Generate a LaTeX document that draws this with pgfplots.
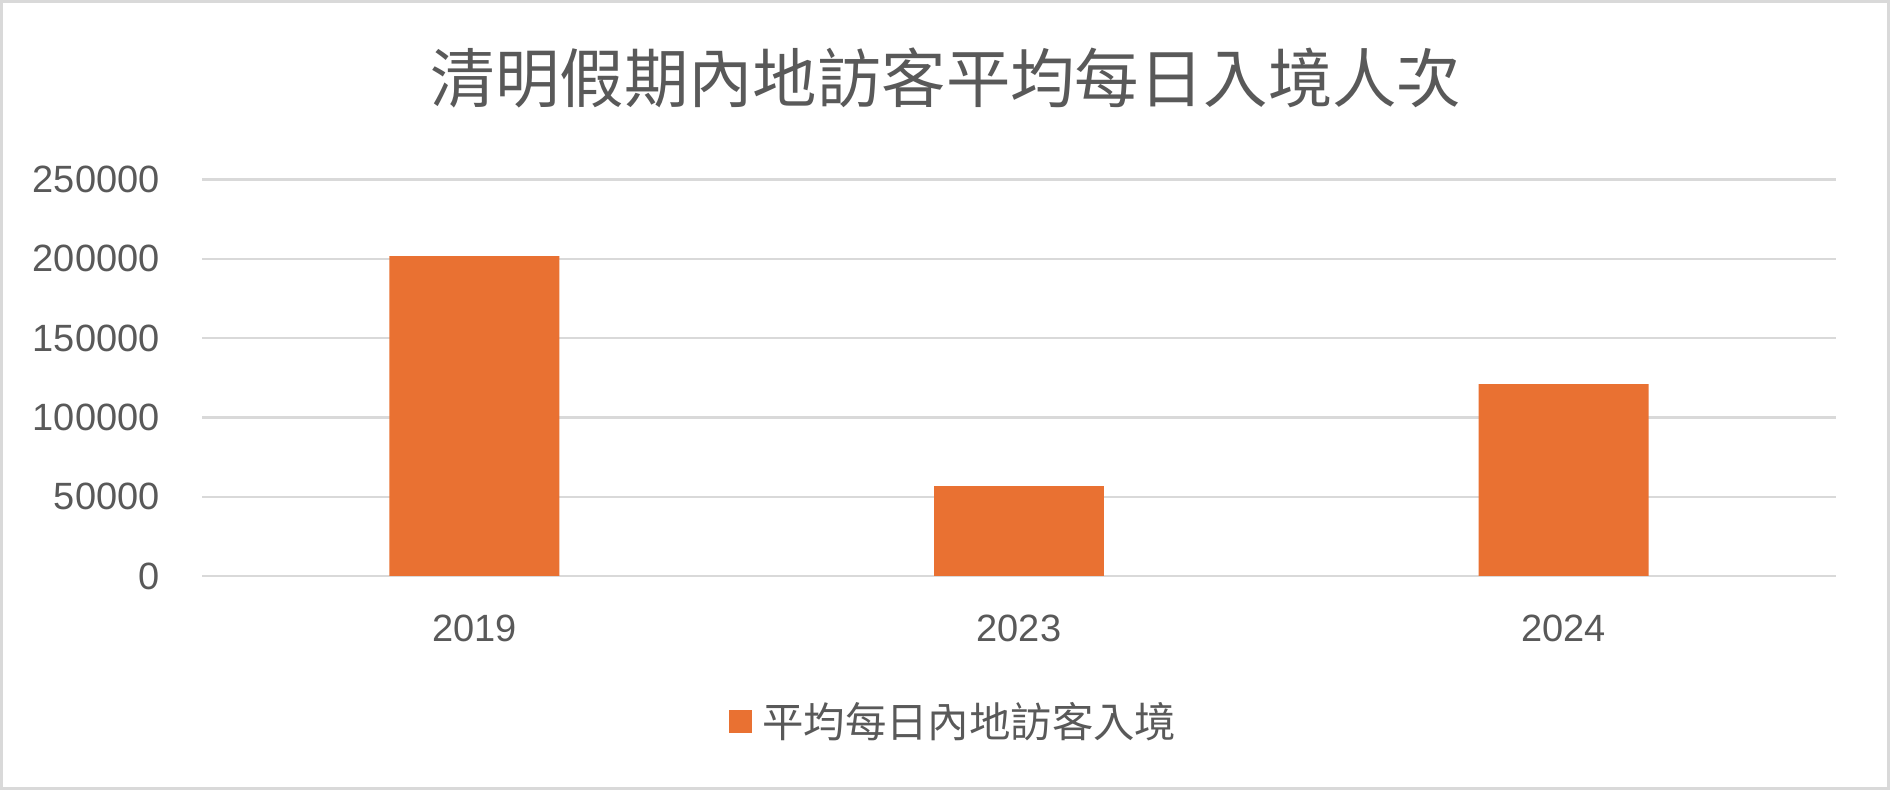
\documentclass[border=0pt]{standalone}
\usepackage{fontspec}
\setmainfont{Liberation Sans}
\newfontfamily\cjk{Noto Sans CJK TC}
\usepackage{pgfplots}
\pgfplotsset{compat=1.18}
\definecolor{barorange}{HTML}{E97132}
\definecolor{txtgray}{HTML}{595959}
\definecolor{gridgray}{HTML}{D9D9D9}
\pgfplotsset{/pgf/number format/.cd, fixed, set thousands separator={}, assume math mode=true}

\begin{document}
\begin{tikzpicture}
\path[use as bounding box] (0,0) rectangle (945pt,395pt);
\fill[white] (0,0) rectangle (945pt,395pt);
\draw[gridgray, line width=1.5pt] (0.75pt,0.75pt) rectangle (944.25pt,394.25pt);
\node[txtgray, font=\cjk\fontsize{32.2}{37}\selectfont] at (473pt,356pt) {清明假期內地訪客平均每日入境人次};
\begin{axis}[
    at={(101pt,107pt)}, anchor=south west,
    scale only axis, width=817pt, height=198.2pt,
    xmin=-0.5, xmax=2.5, ymin=0, ymax=250000,
    xtick={0,1,2}, xticklabels={2019,2023,2024},
    ytick={0,50000,100000,150000,200000,250000},
    scaled y ticks=false,
    axis line style={draw=none},
    major tick length=0pt,
    ymajorgrids, grid style={gridgray, line width=1.2pt},
    tick label style={txtgray, font=\fontsize{19}{23}\selectfont},
    yticklabel style={anchor=east, inner sep=0pt, xshift=-21pt},
    xticklabel style={anchor=center, inner sep=0pt, yshift=-26pt},
    legend style={at={(0.4625,-0.368)}, anchor=center, draw=none, fill=none,
        font=\cjk\fontsize{20.7}{24}\selectfont, text=txtgray,
        nodes={inner xsep=5pt}},
    legend image code/.code={\fill[#1] (0pt,-5.75pt) rectangle (11.5pt,5.75pt);},
]
\addplot[ybar, bar width=0.312, fill=barorange, draw=none] coordinates {
    (0,201700)
    (1,56700)
    (2,121000)
};
\legend{平均每日內地訪客入境}
\end{axis}
\end{tikzpicture}
\end{document}
